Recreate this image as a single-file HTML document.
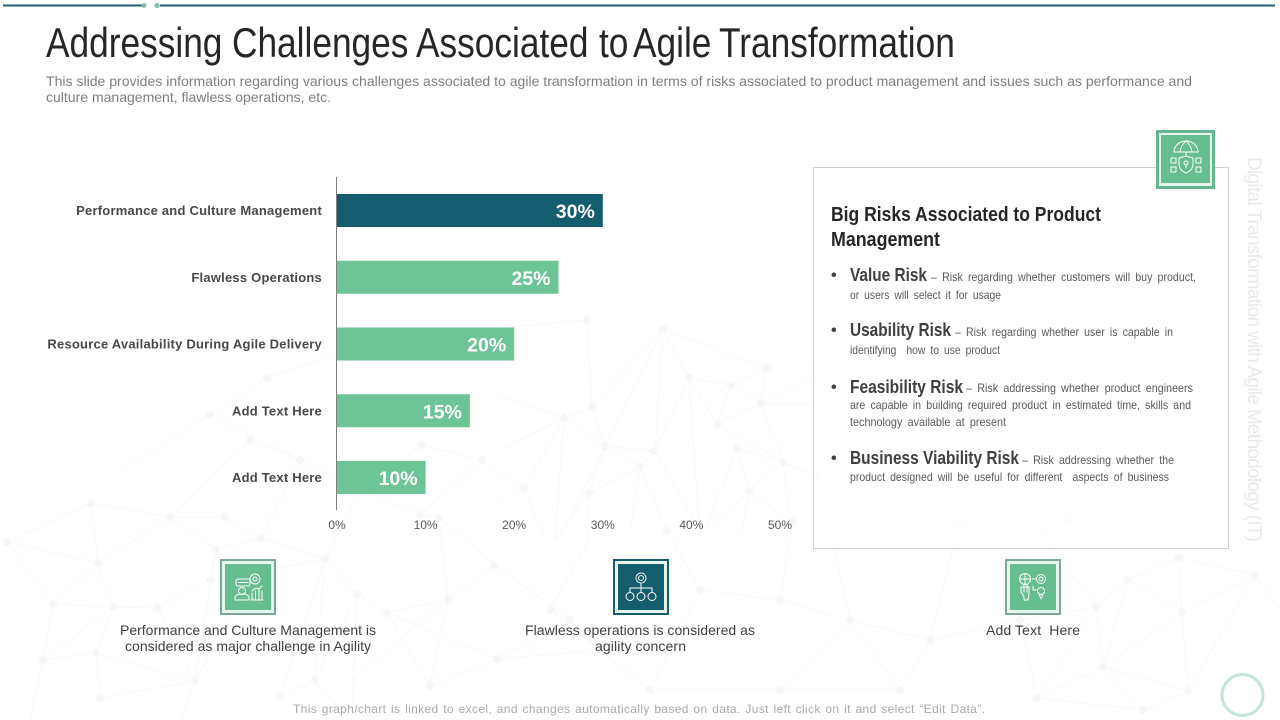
<!DOCTYPE html>
<html lang="en">
<head>
<meta charset="utf-8">
<title>Addressing Challenges Associated to Agile Transformation</title>
<style>
html,body{margin:0;padding:0;background:#fff;width:1280px;height:720px;overflow:hidden}
svg{display:block}
text{font-family:"Liberation Sans",sans-serif;white-space:pre}
.ic{fill:none;stroke:#fff;stroke-width:1;stroke-linejoin:round;stroke-linecap:round}
.body{font-size:12px;fill:#5a5a5a;word-spacing:2.5px}
.lead{font-size:18px;font-weight:bold;fill:#404040}
.cap{font-size:14px;fill:#404040}
</style>
</head>
<body>
<svg id="slide" xmlns="http://www.w3.org/2000/svg" width="1280" height="720" viewBox="0 0 1280 720">
  <g>
    <path fill="none" stroke="#f8f9f9" stroke-width="1" d="M500 328L587 320L592 407M663 329L766 368M663 329L689 378M663 329L592 407M663 329L605 446M663 329L655 451M689 378L731 385M689 378L655 451M689 378L717 424M689 378L700 540M731 385L766 368M731 385L761 403M731 385L717 424M766 368L761 403M766 368L818 368M761 403L717 424M761 403L783 462M761 403L818 405M761 403L813 375M717 424L783 462M737 448L783 462M737 448L749 491M737 448L705 530M783 462L749 491M783 462L790 520M783 462L818 477M749 491L792 522M749 491L740 540M749 491L705 530M655 451L605 446M655 451L640 467M655 451L700 530M640 467L605 446M640 467L589 493M640 467L667 531M640 467L630 530M605 446L592 407M605 446L564 418M605 446L589 493M605 446L560 540M592 407L564 418M564 418L500 450M564 418L524 488M564 418L555 540M564 418L500 395M524 488L500 500M524 488L545 540M589 493L589 540M589 493L555 540M267 378L210 415M267 378L345 350M210 415L300 460M210 415L120 470M250 440L300 460M300 460L360 490M360 490L422 445M422 445L482 460M482 460L420 515M482 460L524 488M360 490L420 515M420 515L439 518M360 490L325 559M300 460L261 538M250 440L170 517M170 517L91 503M91 503L98 563M91 503L7 542M170 517L225 517M170 517L98 563M170 517L216 549M225 517L261 538M261 538L216 549M261 538L325 559M216 549L210 580M325 559L357 594M325 559L280 697M325 559L210 580M7 542L53 604M98 563L113 607M98 563L53 604M98 563L7 542M53 604L113 607M113 607L157 608M113 607L96 653M113 607L43 660M157 608L210 580M157 608L195 681M53 604L43 660M43 660L96 653M96 653L195 681M96 653L100 698M43 660L30 720M100 698L195 681M195 681L230 620M195 681L180 720M216 549L195 681M315 680L325 559M315 680L280 697M315 680L357 594M315 680L350 720M357 594L387 613M357 594L352 720M387 613L448 599M387 613L430 686M387 613L497 659M448 599L439 518M448 599L495 565M448 599L352 680M430 686L497 659M430 686L448 599M495 565L439 518M495 565L570 620M497 659L570 620M497 659L600 650M600 650L570 620M600 650L550 610M550 610L589 540M600 650L650 690M650 690L700 590M700 590L780 600M700 590L667 531M780 600L850 620M780 600L792 522M850 620L930 640M850 620L818 477M930 640L960 520M930 640L900 690M900 690L850 620M960 520L1043 533M1043 533L1070 520M1043 533L1096 607M1096 607L1128 580M1128 580L1179 558M1128 580L1182 612M1128 580L1103 667M1179 558L1255 575M1179 558L1182 612M1182 612L1255 575M1182 612L1188 691M1182 612L1103 667M1096 607L1037 698M1096 607L1103 667M1103 667L1037 698M1103 667L1188 691M1103 667L1143 710M1188 691L1143 710M1188 691L1255 575M1037 698L1143 710M1037 698L1020 620M1020 620L1096 607M1020 620L930 640M780 690L850 620M780 690L650 690M780 690L900 690M0 540L7 542M1255 575L1280 610"/>
    <path fill="none" stroke="#f6f7f7" stroke-width="8" stroke-linecap="round" d="M587 320h0M663 329h0M766 368h0M731 385h0M689 378h0M761 403h0M717 424h0M737 448h0M783 462h0M749 491h0M655 451h0M640 467h0M605 446h0M592 407h0M564 418h0M524 488h0M589 493h0M667 531h0M792 522h0M818 477h0M91 503h0M170 517h0M225 517h0M261 538h0M216 549h0M325 559h0M98 563h0M7 542h0M210 580h0M53 604h0M113 607h0M157 608h0M357 594h0M448 599h0M387 613h0M495 565h0M43 660h0M96 653h0M195 681h0M100 698h0M315 680h0M280 697h0M430 686h0M497 659h0M439 518h0M1043 533h0M1179 558h0M1128 580h0M1096 607h0M1182 612h0M1255 575h0M1103 667h0M1037 698h0M1188 691h0M1143 710h0M267 378h0M210 415h0M482 460h0M422 445h0M360 490h0M300 460h0M250 440h0M420 515h0M570 620h0M700 590h0M780 600h0M550 610h0M600 650h0M850 620h0M930 640h0M960 520h0M1070 520h0M900 690h0M650 690h0M780 690h0M1020 620h0"/>
  </g>

  <g>
    <rect x="3" y="4.500" width="140" height="2" fill="#1f5f6d"/>
    <rect x="160" y="4.500" width="1115" height="2" fill="#1f5f6d"/>
    <circle cx="144" cy="5.500" r="2.500" fill="#7fbfa3"/>
    <circle cx="157" cy="5.500" r="2.500" fill="#7fbfa3"/>
  </g>

  <text transform="translate(46 57) scale(0.84 1)" font-size="42" fill="#262626"><tspan x="0">Addressing </tspan><tspan x="221.400">Challenges </tspan><tspan x="440.500">Associated </tspan><tspan x="658.300">to </tspan><tspan x="698.800">Agile </tspan><tspan x="801.200">Transformation</tspan></text>
  <text x="46" y="86" font-size="14" fill="#7f7f7f" textLength="1146" lengthAdjust="spacingAndGlyphs">This slide provides information regarding various challenges associated to agile transformation in terms of risks associated to product management and issues such as performance and</text>
  <text x="46" y="102" font-size="14" fill="#7f7f7f" textLength="285" lengthAdjust="spacingAndGlyphs">culture management, flawless operations, etc.</text>

  <g id="chart"></g>

  <g>
    <rect x="813.5" y="167.5" width="415" height="381" fill="#fff" fill-opacity="0.75" stroke="#d0d0d0"/>
    <text x="831" y="221" font-size="20" font-weight="bold" fill="#262626" textLength="270" lengthAdjust="spacingAndGlyphs">Big Risks Associated to Product</text>
    <text x="831" y="246" font-size="20" font-weight="bold" fill="#262626" textLength="109" lengthAdjust="spacingAndGlyphs">Management</text>

    <text x="831" y="280" font-size="16" font-weight="bold" fill="#404040">•</text>
    <text class="lead" x="850" y="281" textLength="77" lengthAdjust="spacingAndGlyphs">Value Risk</text>
    <text class="body" x="931" y="281" textLength="265" lengthAdjust="spacingAndGlyphs">– Risk regarding whether customers will buy product,</text>
    <text class="body" x="850" y="299" textLength="151" lengthAdjust="spacingAndGlyphs">or users will select it for usage</text>

    <text x="831" y="335" font-size="16" font-weight="bold" fill="#404040">•</text>
    <text class="lead" x="850" y="336" textLength="101" lengthAdjust="spacingAndGlyphs">Usability Risk</text>
    <text class="body" x="955" y="336" textLength="218" lengthAdjust="spacingAndGlyphs">– Risk regarding whether user is capable in</text>
    <text class="body" x="850" y="354" textLength="150" lengthAdjust="spacingAndGlyphs">identifying  how to use product</text>

    <text x="831" y="392" font-size="16" font-weight="bold" fill="#404040">•</text>
    <text class="lead" x="850" y="393" textLength="113" lengthAdjust="spacingAndGlyphs">Feasibility Risk</text>
    <text class="body" x="966" y="392" textLength="227" lengthAdjust="spacingAndGlyphs">– Risk addressing whether product engineers</text>
    <text class="body" x="850" y="409" textLength="341" lengthAdjust="spacingAndGlyphs">are capable in building required product in estimated time, skills and</text>
    <text class="body" x="850" y="426" textLength="156" lengthAdjust="spacingAndGlyphs">technology available at present</text>

    <text x="831" y="463" font-size="16" font-weight="bold" fill="#404040">•</text>
    <text class="lead" x="850" y="464" textLength="169" lengthAdjust="spacingAndGlyphs">Business Viability Risk</text>
    <text class="body" x="1022" y="464" textLength="152" lengthAdjust="spacingAndGlyphs">– Risk addressing whether the</text>
    <text class="body" x="850" y="481" textLength="319" lengthAdjust="spacingAndGlyphs">product designed will be useful for different  aspects of business</text>
  </g>

  <g transform="translate(1156 130)">
    <rect x="1.5" y="1.5" width="56" height="56" fill="#e8f5ee" stroke="#62b58d" stroke-width="3"/>
    <rect x="5" y="5" width="49" height="48" fill="#66bd8f"/>
    <g class="ic" transform="translate(5 5)">
      <path d="M13 17a12 11 0 0 1 24 0ZM19 17q1-7 6-11q5 4 6 11M25 17V20"/>
      <path d="M25 21l7 2v6q0 6-7 9q-7-3-7-9v-6Z"/><circle cx="25" cy="28" r="2"/><path d="M25 30v3"/>
      <rect x="10" y="23" width="5" height="5"/><rect x="10" y="32" width="5" height="5"/><rect x="35" y="23" width="5" height="5"/><rect x="35" y="32" width="5" height="5"/>
    </g>
  </g>

  <g transform="translate(220 559)">
    <rect x="1" y="1" width="54" height="54" fill="#e8f5ee" stroke="#7aa796" stroke-width="2"/>
    <rect x="5" y="5" width="46" height="46" fill="#66bd8f"/>
    <g class="ic">
      <rect x="16" y="20" width="14" height="7" rx="2"/><path d="M18 23.500h10"/>
      <circle cx="35" cy="20" r="5"/><circle cx="35" cy="20" r="2"/>
      <circle cx="22" cy="32" r="3.500"/><path d="M15 41v-3q1-3 7-3q6 0 7 3v3Z"/>
      <path d="M32 41v-7M35.500 41v-9M39 41v-11M42 41v-9M31 41h12M32 32l4-3l3 1l3-3"/>
    </g>
  </g>

  <g transform="translate(613 559)">
    <rect x="1" y="1" width="54" height="54" fill="#e8f5ee" stroke="#135d6e" stroke-width="2"/>
    <rect x="5" y="5" width="46" height="46" fill="#135d6e"/>
    <g class="ic">
      <circle cx="28" cy="19" r="5" stroke-dasharray="2.500 1"/><circle cx="28" cy="19" r="2.500"/>
      <path d="M28 25v4M17 33v-4h22v4M28 29v4"/>
      <circle cx="17" cy="37.500" r="4"/><circle cx="28" cy="37.500" r="4"/><circle cx="39" cy="37.500" r="4"/>
    </g>
  </g>

  <g transform="translate(1005 559)">
    <rect x="1" y="1" width="54" height="54" fill="#e8f5ee" stroke="#7aa796" stroke-width="2"/>
    <rect x="5" y="5" width="46" height="46" fill="#66bd8f"/>
    <g class="ic">
      <circle cx="20" cy="20" r="5.500"/><path d="M14.500 20h11M20 14.500v11"/>
      <circle cx="36" cy="20" r="4.500" stroke-dasharray="2.500 1"/><circle cx="36" cy="20" r="2"/>
      <path d="M19 41v-3l-3-5v-5h8v5q0 3-1 8ZM19 33v-7M22 33v-7"/>
      <circle cx="36" cy="32" r="3.500"/><path d="M34 35l2 5l2-5M27 20h4M28 27v4h4"/>
    </g>
  </g>

  <text class="cap" x="120" y="635" textLength="256" lengthAdjust="spacing">Performance and Culture Management is</text>
  <text class="cap" x="125" y="651" textLength="246" lengthAdjust="spacing">considered as major challenge in Agility</text>
  <text class="cap" x="525" y="635" textLength="230" lengthAdjust="spacing">Flawless operations is considered as</text>
  <text class="cap" x="595" y="651" textLength="91" lengthAdjust="spacing">agility concern</text>
  <text class="cap" x="986" y="635" textLength="94" lengthAdjust="spacing">Add Text  Here</text>

  <text transform="translate(1248 157) rotate(90)" font-size="19" fill="#e9e9e9" textLength="385" lengthAdjust="spacing">Digital Transformation with Agile Methodology (IT)</text>
  <text x="293" y="713" font-size="12" fill="#a9a9a9" textLength="692" lengthAdjust="spacing" style="word-spacing:1px">This graph/chart is linked to excel, and changes automatically based on data. Just left click on it and select “Edit Data”.</text>
  <circle cx="1242.500" cy="695" r="20.500" fill="#fff" fill-opacity="0.6" stroke="#c5e4d5" stroke-width="3"/>
</svg>
<script>
const categories = ["Performance and Culture Management", "Flawless Operations", "Resource Availability During Agile Delivery", "Add Text Here", "Add Text Here"];
const seriesValues = [30, 25, 20, 15, 10];
const highlightedCategory = "Performance and Culture Management";
const tickValues = [0, 10, 20, 30, 40, 50];
const tickLabels = ["0%", "10%", "20%", "30%", "40%", "50%"];

const NS = "http://www.w3.org/2000/svg";
const chart = document.getElementById("chart");
const xAxis = function (v) { return 337 + v * 8.86; };
const yAxis = function (i) { return 194 + i * 66.75; };
const bandHeight = 33;

function make(tag, attrs, text) {
  const el = document.createElementNS(NS, tag);
  Object.keys(attrs).forEach(function (k) { el.setAttribute(k, attrs[k]); });
  if (text !== undefined) el.textContent = text;
  chart.appendChild(el);
  return el;
}

seriesValues.forEach(function (v, i) {
  const bar = make("rect", {
    x: xAxis(0), y: yAxis(i),
    width: xAxis(v) - xAxis(0), height: bandHeight,
    fill: categories[i] === highlightedCategory ? "#135d6e" : "#6cc497"
  });
  
  

  const value = make("text", {
    x: xAxis(v) - 8, y: yAxis(i) + 24,
    "text-anchor": "end", "font-size": 19.5, "font-weight": "bold", fill: "#fff"
  }, v + "%");
  
  

  const label = make("text", {
    x: xAxis(0) - 15, y: yAxis(i) + 21,
    "text-anchor": "end", "font-size": 13, "font-weight": "bold", fill: "#484848",
    "letter-spacing": 0.22
  }, categories[i]);
  
  
});

const axisLine = make("line", {
  x1: xAxis(0) - 0.5, x2: xAxis(0) - 0.5, y1: 177, y2: 510,
  stroke: "#7f7f7f", "stroke-width": 1
});



tickValues.forEach(function (t, i) {
  const tick = make("text", {
    x: xAxis(t), y: 529,
    "text-anchor": "middle", "font-size": 12, fill: "#595959"
  }, tickLabels[i]);
  
  
});
</script>
</body>
</html>
